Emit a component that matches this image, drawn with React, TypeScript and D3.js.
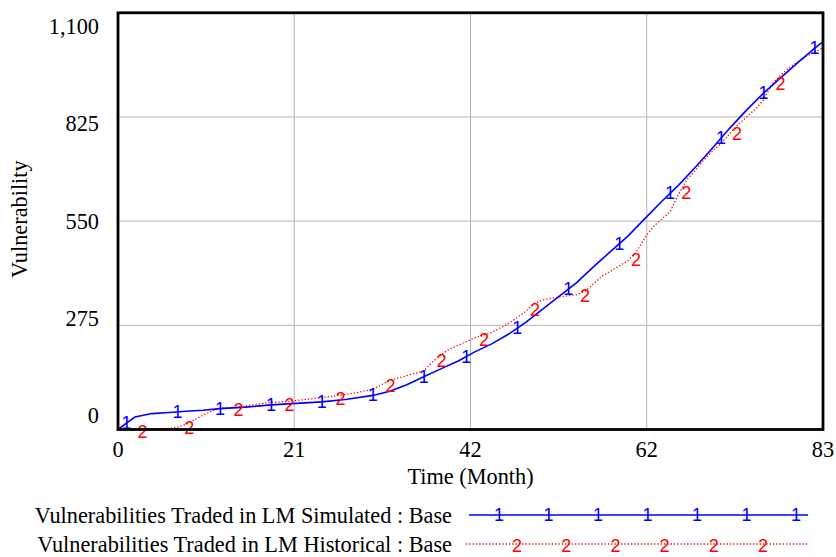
import React from "react";
import * as d3 from "d3";

// Simulated series (month, value)
const simMonths = [0, 1, 2, 4, 6, 8, 10, 12, 15, 18, 21, 24, 27, 30, 32, 34, 36, 38, 40, 42, 44, 46, 48, 50, 52, 54, 56, 58, 60, 62, 64, 66, 68, 70, 72, 74, 76, 78, 80, 82, 83];
const simValues = [0, 17, 33, 42, 45, 48, 51, 55, 59, 65, 69, 73, 80, 90, 101, 118, 139, 160, 180, 205, 226, 252, 283, 318, 353, 388, 430, 470, 510, 556, 602, 645, 693, 743, 795, 843, 888, 928, 968, 1006, 1024];

// Historical series (month, value)
const histMonths = [0, 2, 4, 6, 7, 8, 9, 10, 11, 12, 14, 16, 18, 20, 22, 24, 26, 28, 30, 32, 34, 36, 37, 38, 39, 40, 42, 44, 46, 48, 49, 50, 52, 54, 55, 56, 57, 58, 60, 61, 62, 63, 64, 65, 66, 67, 68, 69, 70, 71, 72, 73, 74, 75, 76, 77, 78, 79, 80, 81, 82, 83];
const histValues = [0, 1, 2, 3, 6, 14, 25, 38, 48, 56, 59, 66, 72, 74, 79, 84, 90, 97, 106, 130, 142, 155, 178, 197, 212, 222, 242, 256, 280, 312, 333, 342, 350, 356, 365, 385, 405, 418, 445, 468, 505, 535, 555, 575, 622, 660, 685, 712, 735, 755, 780, 805, 825, 845, 870, 912, 935, 955, 970, 985, 995, 1008];

// Months carrying the series number markers
const simMarkMonths = [1, 7, 12, 18, 24, 30, 36, 41, 47, 53, 59, 65, 71, 76, 82];
const histMarkMonths = [2.3, 7.8, 13.6, 19.6, 25.6, 31.5, 37.5, 42.5, 48.5, 54.4, 60.4, 66.3, 72.3, 77.4];

const xTicks = [0, 20.75, 41.5, 62.25, 83];
const xTickLabels = ["0", "21", "42", "62", "83"];
const yTicks = [0, 275, 550, 825, 1100];
const yTickLabels = ["0", "275", "550", "825", "1,100"];

const seriesNames = [
  "Vulnerabilities Traded in LM Simulated : Base",
  "Vulnerabilities Traded in LM Historical : Base",
];

const W = 836;
const H = 557;
const serif = "'Liberation Serif', 'Times New Roman', serif";
const sans = "'Liberation Sans', Arial, sans-serif";
const textSize = 22.3;
const markSize = 18;

export default function App() {
  const x = d3.scaleLinear().domain([0, 83]).range([118, 823]);
  const y = d3.scaleLinear().domain([0, 1100]).range([429.5, 12.8]);
  // tick labels are spread slightly inside the axis extent
  const yLabel = d3.scaleLinear().domain([0, 1100]).range([423, 34]);

  const simAt = d3.scaleLinear().domain(simMonths).range(simValues).clamp(true);
  const histAt = d3.scaleLinear().domain(histMonths).range(histValues).clamp(true);

  const line = d3
    .line<[number, number]>()
    .x((d) => x(d[0]))
    .y((d) => y(d[1]));

  const simPath = line(simMonths.map((m, i) => [m, simValues[i]]))!;
  const histPath = line(histMonths.map((m, i) => [m, histValues[i]]))!;

  const legendX0 = 467;
  const legendX1 = 808;
  const legendY = [515, 544];
  const legendStep = 49.5;

  return (
    <svg
      width={W}
      height={H}
      style={{ position: "absolute", left: 0, top: 0, background: "#fff" }}
    >
      <rect x={0} y={0} width={W} height={H} fill="#fff" />

      {/* grid */}
      {xTicks.slice(1, -1).map((t) => (
        <line key={"gx" + t} x1={x(t)} x2={x(t)} y1={y(1100)} y2={y(0)} stroke="#b4b4b4" strokeWidth={1} />
      ))}
      {yTicks.slice(1, -1).map((v) => (
        <line key={"gy" + v} x1={x(0)} x2={x(83)} y1={y(v)} y2={y(v)} stroke="#b4b4b4" strokeWidth={1} />
      ))}

      {/* series */}
      <path d={histPath} fill="none" stroke="#ff0000" strokeWidth={1.3} strokeDasharray="1.3,2" />
      <path d={simPath} fill="none" stroke="#0000ff" strokeWidth={1.6} />

      {histMarkMonths.map((t, i) => (
        <text
          key={"hm" + i}
          x={x(t) + 5}
          y={y(histAt(t)) + 3}
          fill="#ff0000"
          fontFamily={sans}
          fontSize={markSize}
          textAnchor="middle"
          dominantBaseline="central"
        >
          2
        </text>
      ))}
      {simMarkMonths.map((t, i) => (
        <text
          key={"sm" + i}
          x={x(t)}
          y={y(simAt(t))}
          fill="#0000ff"
          fontFamily={sans}
          fontSize={markSize}
          textAnchor="middle"
          dominantBaseline="central"
        >
          1
        </text>
      ))}

      {/* frame */}
      <rect
        x={x(0)}
        y={y(1100)}
        width={x(83) - x(0)}
        height={y(0) - y(1100)}
        fill="none"
        stroke="#000"
        strokeWidth={2.8}
      />

      {/* axis labels */}
      {xTicks.map((t, i) => (
        <text
          key={"xl" + i}
          x={x(t)}
          y={457}
          fontFamily={serif}
          fontSize={textSize}
          textAnchor="middle"
          fill="#000"
        >
          {xTickLabels[i]}
        </text>
      ))}
      {yTicks.map((v, i) => (
        <text
          key={"yl" + i}
          x={99}
          y={yLabel(v)}
          fontFamily={serif}
          fontSize={textSize}
          textAnchor="end"
          fill="#000"
        >
          {yTickLabels[i]}
        </text>
      ))}
      <text x={x(41.5)} y={484} fontFamily={serif} fontSize={textSize} textAnchor="middle" fill="#000">
        Time (Month)
      </text>
      <text
        transform={`translate(27, ${(y(0) + y(1100)) / 2 - 2}) rotate(-90)`}
        fontFamily={serif}
        fontSize={textSize}
        textAnchor="middle"
        fill="#000"
      >
        Vulnerability
      </text>

      {/* legend */}
      {seriesNames.map((name, i) => (
        <text
          key={"ln" + i}
          x={452}
          y={legendY[i] + 8}
          fontFamily={serif}
          fontSize={textSize}
          textAnchor="end"
          fill="#000"
        >
          {name}
        </text>
      ))}
      <line x1={legendX0 + 2} x2={legendX1} y1={legendY[0]} y2={legendY[0]} stroke="#0000ff" strokeWidth={1.6} />
      {d3.range(0, 7).map((k) => (
        <text
          key={"l1" + k}
          x={499 + k * legendStep}
          y={legendY[0]}
          fill="#0000ff"
          fontFamily={sans}
          fontSize={markSize}
          textAnchor="middle"
          dominantBaseline="central"
        >
          1
        </text>
      ))}
      <line
        x1={legendX0 - 1}
        x2={legendX1 - 1}
        y1={legendY[1]}
        y2={legendY[1]}
        stroke="#ff0000"
        strokeWidth={1.3}
        strokeDasharray="1.3,2"
      />
      {d3.range(0, 6).map((k) => (
        <text
          key={"l2" + k}
          x={517 + k * 49.2}
          y={legendY[1] + 2}
          fill="#ff0000"
          fontFamily={sans}
          fontSize={markSize}
          textAnchor="middle"
          dominantBaseline="central"
        >
          2
        </text>
      ))}
    </svg>
  );
}
